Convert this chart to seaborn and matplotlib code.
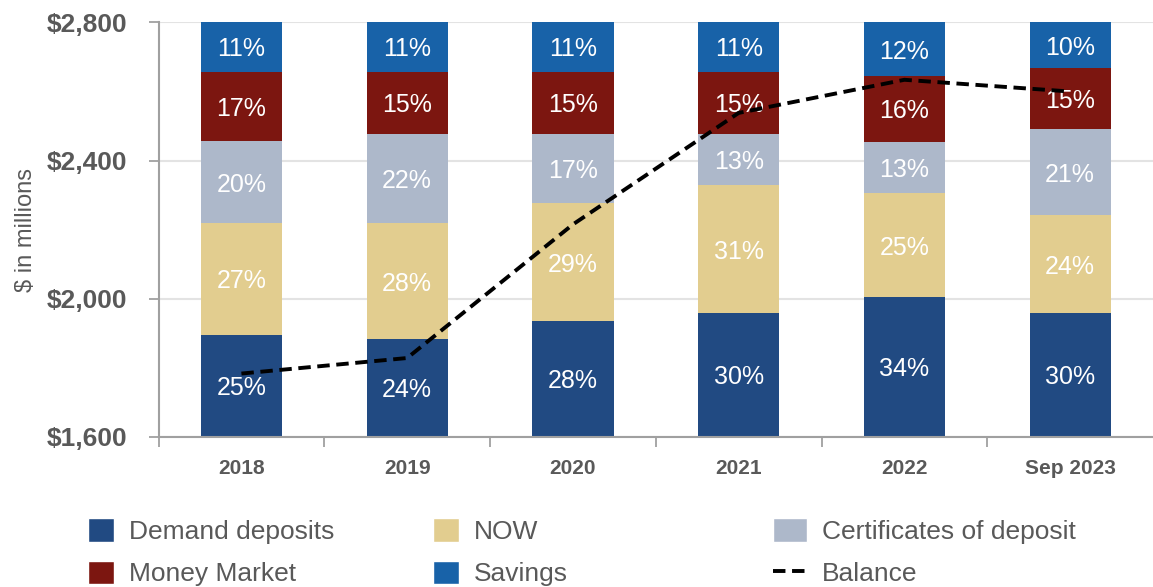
import numpy as np
import matplotlib.pyplot as plt
import seaborn as sns
from matplotlib.patches import Patch
from matplotlib.lines import Line2D
from matplotlib.ticker import FuncFormatter


years = ["2018", "2019", "2020", "2021", "2022", "Sep 2023"]

# top of each stacked segment, $ in millions
demand_top = [1895, 1884, 1936, 1958, 2005, 1958]
now_top = [2219, 2218, 2276, 2328, 2305, 2242]
cd_top = [2456, 2478, 2478, 2478, 2455, 2490]
mm_top = [2658, 2658, 2658, 2658, 2646, 2669]
savings_top = [2800, 2800, 2800, 2800, 2800, 2800]

# share of deposits, %
demand_pct = [25, 24, 28, 30, 34, 30]
now_pct = [27, 28, 29, 31, 25, 24]
cd_pct = [20, 22, 17, 13, 13, 21]
mm_pct = [17, 15, 15, 15, 16, 15]
savings_pct = [11, 11, 11, 11, 12, 10]

balance = [1783, 1828, 2215, 2538, 2634, 2600]

GREY = "#595959"
AXIS_GREY = "#A0A0A0"
COLORS = {
    "Demand deposits": "#214A82",
    "NOW": "#E2CD8F",
    "Certificates of deposit": "#ADB8CA",
    "Money Market": "#7C1610",
    "Savings": "#1862A8",
}
DASH = (0, (3.2, 1.7))
LINE_W = 2.8

sns.set_style("white")
plt.rcParams["font.family"] = ["Liberation Sans", "DejaVu Sans"]

fig = plt.figure(figsize=(11.53, 5.87), dpi=100)
ax = fig.add_axes([0.1375, 0.256, 0.8625, 0.7057])

# stacked bars: draw cumulative tops from the largest down
layers = [
    ("Savings", savings_top),
    ("Money Market", mm_top),
    ("Certificates of deposit", cd_top),
    ("NOW", now_top),
    ("Demand deposits", demand_top),
]
for name, tops in layers:
    sns.barplot(x=years, y=tops, order=years, color=COLORS[name], saturation=1,
                width=0.49, errorbar=None, linewidth=0, ax=ax)

# percentage labels in the middle of each segment
bounds = [[1600] * len(years), demand_top, now_top, cd_top, mm_top, savings_top]
pcts = [demand_pct, now_pct, cd_pct, mm_pct, savings_pct]
for k, pct in enumerate(pcts):
    for i, p in enumerate(pct):
        mid = (bounds[k][i] + bounds[k + 1][i]) / 2
        ax.text(i, mid, f"{p}%", ha="center", va="center_baseline", color="white",
                fontsize=18, zorder=4)

ax.plot(np.arange(len(years)), balance, color="black", lw=LINE_W, linestyle=DASH, zorder=5)

ax.set_ylim(1600, 2800)
ax.set_xlim(-0.5, 5.5)
ax.set_yticks([1600, 2000, 2400, 2800])
ax.yaxis.set_major_formatter(FuncFormatter(lambda v, _: f"${v:,.0f}"))
ax.yaxis.grid(True, color="#E3E3E3", lw=1.5)
ax.set_axisbelow(True)

for side in ["top", "right"]:
    ax.spines[side].set_visible(False)
for side in ["left", "bottom"]:
    ax.spines[side].set_color(AXIS_GREY)
    ax.spines[side].set_linewidth(1.5)

ax.tick_params(axis="y", length=7.5, width=1.3, color=AXIS_GREY, pad=15,
               labelsize=19, labelcolor=GREY, left=True)
for lab in ax.get_yticklabels():
    lab.set_fontweight("bold")

ax.set_xticks(np.arange(-0.5, 5.5, 1), minor=True)
ax.tick_params(axis="x", which="major", length=0, pad=16, labelsize=15, labelcolor=GREY)
ax.tick_params(axis="x", which="minor", length=7.5, width=1.3, color=AXIS_GREY, bottom=True)
for lab in ax.get_xticklabels():
    lab.set_fontweight("bold")

ax.set_xlabel("")
ax.set_ylabel("$ in millions", fontsize=17, color=GREY, labelpad=7)

# legend: three columns placed separately
legend_cols = [
    (0.0763, 1.0, [Patch(facecolor=COLORS["Demand deposits"], label="Demand deposits"),
                   Patch(facecolor=COLORS["Money Market"], label="Money Market")]),
    (0.3755, 1.0, [Patch(facecolor=COLORS["NOW"], label="NOW"),
                   Patch(facecolor=COLORS["Savings"], label="Savings")]),
    (0.6705, 1.3, [Patch(facecolor=COLORS["Certificates of deposit"], label="Certificates of deposit"),
                   Line2D([0], [0], color="black", lw=LINE_W, linestyle=DASH, label="Balance")]),
]
for xpos, hlen, handles in legend_cols:
    fig.legend(handles=handles, loc="upper left", bbox_to_anchor=(xpos, 0.117),
               frameon=False, fontsize=19, labelcolor=GREY, borderpad=0,
               borderaxespad=0, handlelength=hlen, handleheight=1.0,
               handletextpad=0.55, labelspacing=0.62)

fig.savefig("out.png", dpi=100)
